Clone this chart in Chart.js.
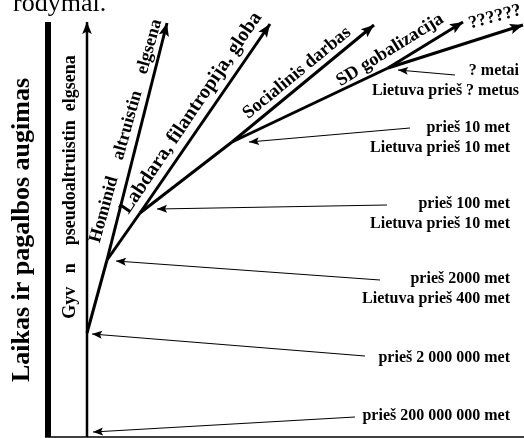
<!DOCTYPE html>
<html>
<head>
<meta charset="utf-8">
<script src="https://cdn.jsdelivr.net/npm/chart.js@4"></script>
<style>
  body { margin: 0; background: #fff; }
  #wrap { width: 524px; height: 438px; }
</style>
</head>
<body>
<div id="wrap"><canvas id="myChart" width="524" height="438"></canvas></div>
<script>
// paths of the diagram, in picture units (x to the right, y down)
const bar = [[48, 22], [48, 437]];
const baseLine = [[45, 437], [524, 437]];
const trunk = [[87, 437], [87, 22]];
const gyvStem = [[87, 333], [107, 260]];
const hominid = [[107, 260], [167, 23]];
const labdaraStem = [[107, 260], [140, 213]];
const labdara = [[140, 213], [270, 24]];
const socStem = [[140, 213], [232, 142]];
const social = [[232, 142], [374, 25]];
const sdStem = [[232, 142], [388, 68]];
const sdUp = [[388, 68], [463, 22]];
const sdRight = [[388, 68], [523, 25]];

// thin pointers from the right labels
const pointers = [
  [[455, 75], [398, 70]],
  [[410, 128], [249, 142]],
  [[387, 205], [157, 209]],
  [[380, 280], [116, 261]],
  [[365, 356], [92, 334]],
  [[355, 417], [93, 432]],
];

const rightLabels = [
  ["? metai", "Lietuva prieš ? metus"],
  ["prieš 10 met", "Lietuva prieš 10 met"],
  ["prieš 100 met", "Lietuva prieš 10 met"],
  ["prieš 2000 met", "Lietuva prieš 400 met"],
  ["prieš 2 000 000 met"],
  ["prieš 200 000 000 met"],
];
const branchLabels = [
  "Gyv   n    pseudoaltruistin  elgsena",
  "Hominid    altruistin    elgsena",
  "Labdara, filantropija, globa",
  "Socialinis darbas",
  "SD gobalizacija",
  "??????",
];
const axisTitle = "Laikas ir pagalbos augimas";
const topText = "rodymai.";

// where the texts go
const rightPos = [[519, 75], [510, 132], [510, 208], [510, 283], [510, 362], [510, 420]];
const branchPos = [
  { x: 70, y: 187, a: -90, size: 18 },
  { x: 126, y: 131, a: -74.5, size: 18 },
  { x: 191, y: 113, a: -56, size: 20 },
  { x: 297, y: 73, a: -39.5, size: 18.5 },
  { x: 390, y: 50, a: -32, size: 18.5 },
  { x: 495, y: 17, a: -15, size: 18 },
];

function toPts(p) {
  return p.map((d) => ({ x: d[0], y: d[1] }));
}

function line(p, w, arrow) {
  return {
    data: toPts(p),
    showLine: true,
    borderColor: "#000",
    backgroundColor: "#000",
    borderWidth: w,
    pointRadius: 0,
    borderCapStyle: "butt",
    clip: false,
    arrow: arrow,
  };
}

let sets = [
  line(bar, 6, 0),
  line(baseLine, 1.5, 0),
  line(trunk, 2.5, 12),
  line(gyvStem, 3, 0),
  line(hominid, 3, 13),
  line(labdaraStem, 3, 0),
  line(labdara, 3, 13),
  line(socStem, 3, 0),
  line(social, 3, 13),
  line(sdStem, 3, 0),
  line(sdUp, 3, 13),
  line(sdRight, 3, 13),
];
pointers.forEach((p) => sets.push(line(p, 1.2, 10)));

const arrowHeads = {
  id: "arrowHeads",
  afterDatasetsDraw(chart) {
    const c = chart.ctx;
    chart.data.datasets.forEach((ds, i) => {
      if (!ds.arrow) return;
      const pts = chart.getDatasetMeta(i).data;
      const a = pts[pts.length - 2];
      const b = pts[pts.length - 1];
      const ang = Math.atan2(b.y - a.y, b.x - a.x);
      const L = ds.arrow;
      const W = L * 0.4;
      c.save();
      c.translate(b.x, b.y);
      c.rotate(ang);
      c.fillStyle = "#000";
      c.beginPath();
      c.moveTo(0, 0);
      c.lineTo(-L, -W);
      c.lineTo(-L * 0.8, 0);
      c.lineTo(-L, W);
      c.closePath();
      c.fill();
      c.restore();
    });
  },
};

const texts = {
  id: "texts",
  afterDraw(chart) {
    const c = chart.ctx;
    const sx = chart.scales.x;
    const sy = chart.scales.y;
    c.save();
    c.fillStyle = "#000";
    c.textBaseline = "alphabetic";

    c.font = "26px 'Liberation Serif'";
    c.textAlign = "left";
    c.fillText(topText, sx.getPixelForValue(13), sy.getPixelForValue(11));

    c.font = "bold 26px 'Liberation Serif'";
    c.save();
    c.translate(sx.getPixelForValue(22), sy.getPixelForValue(230));
    c.rotate(-Math.PI / 2);
    c.textAlign = "center";
    c.textBaseline = "middle";
    c.fillText(axisTitle, 0, 0);
    c.restore();

    c.font = "bold 16px 'Liberation Serif'";
    c.textAlign = "right";
    rightLabels.forEach((lines, i) => {
      const p = rightPos[i];
      lines.forEach((t, j) => {
        c.fillText(t, sx.getPixelForValue(p[0]), sy.getPixelForValue(p[1] + j * 20));
      });
    });

    branchLabels.forEach((t, i) => {
      const p = branchPos[i];
      c.save();
      c.font = "bold " + p.size + "px 'Liberation Serif'";
      c.translate(sx.getPixelForValue(p.x), sy.getPixelForValue(p.y));
      c.rotate((p.a * Math.PI) / 180);
      c.textAlign = "center";
      c.textBaseline = "middle";
      c.fillText(t, 0, 0);
      c.restore();
    });
    c.restore();
  },
};

const ctx = document.getElementById("myChart");
new Chart(ctx, {
  type: "scatter",
  data: { datasets: sets },
  options: {
    responsive: false,
    animation: false,
    layout: { padding: 0 },
    plugins: { legend: { display: false }, tooltip: { enabled: false } },
    scales: {
      x: { type: "linear", min: 0, max: 524, display: false },
      y: { type: "linear", min: 0, max: 438, reverse: true, display: false },
    },
  },
  plugins: [arrowHeads, texts],
});
</script>
</body>
</html>
